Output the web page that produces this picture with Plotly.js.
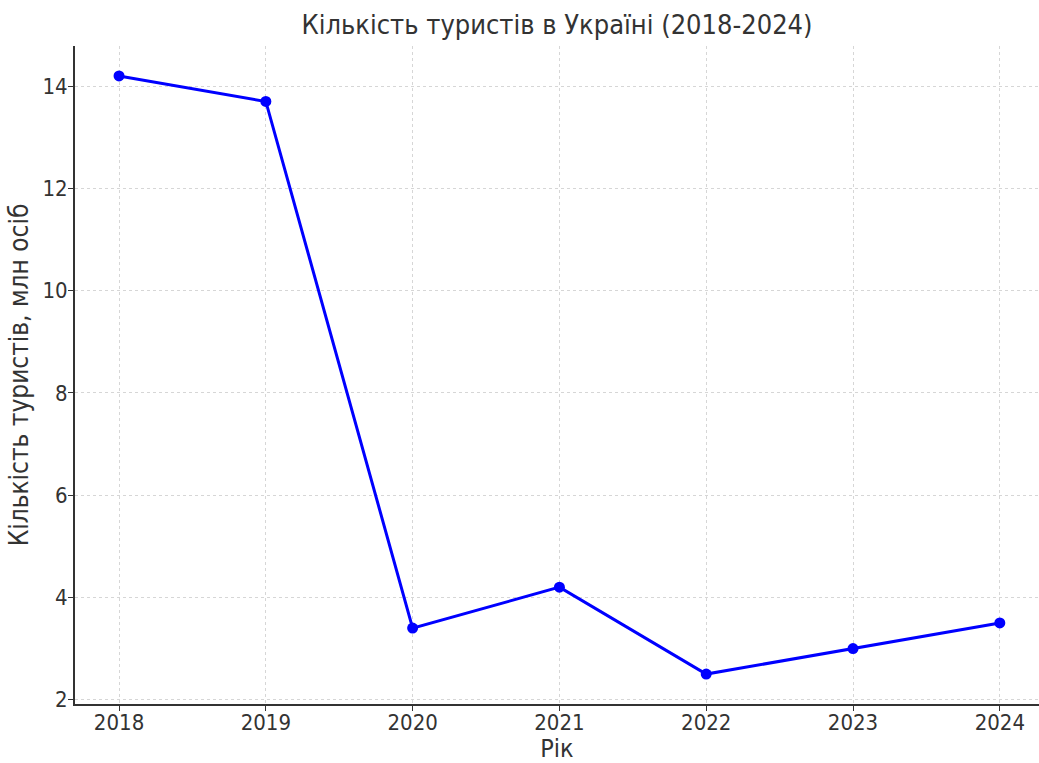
<!DOCTYPE html>
<html>
<head>
<meta charset="utf-8">
<script src="https://cdn.plot.ly/plotly-3.0.1.min.js"></script>
<style>html,body{margin:0;padding:0;background:#fff;overflow:hidden}</style>
</head>
<body>
<div id="chart" style="width:1039px;height:763px"></div>
<script>
const years = [2018, 2019, 2020, 2021, 2022, 2023, 2024];
const tourists = [14.2, 13.7, 3.4, 4.2, 2.5, 3.0, 3.5];
const yTicks = [2, 4, 6, 8, 10, 12, 14];

const trace = {
  x: years, y: tourists, type: 'scatter', mode: 'lines+markers',
  line: {color: '#0000ff', width: 3},
  marker: {color: '#0000ff', size: 11},
  hoverinfo: 'x+y'
};
const font = '"DejaVu Sans Condensed", "DejaVu Sans", sans-serif';
const layout = {
  width: 1039, height: 763,
  margin: {l: 75, r: 0, t: 46, b: 59},
  paper_bgcolor: '#fff', plot_bgcolor: '#fff',
  showlegend: false,
  title: {text: 'Кількість туристів в Україні (2018-2024)', xref: 'paper', x: 0.5, xanchor: 'center',
          yref: 'container', y: 0.968, yanchor: 'middle',
          font: {family: font, size: 27, color: '#333'}},
  xaxis: {
    range: [2017.7, 2024.267], tickvals: years, ticktext: years.map(String),
    showgrid: true, gridcolor: '#d6d6d6', griddash: 'dot', gridwidth: 1,
    zeroline: false, showline: true, linecolor: '#333', linewidth: 2,
    ticks: 'outside', ticklen: 5, tickcolor: '#333',
    tickfont: {family: font, size: 22, color: '#333'},
    ticklabelstandoff: -7,
    title: {text: 'Рік', font: {family: font, size: 25, color: '#333'}, standoff: 2}
  },
  yaxis: {
    range: [1.915, 14.785], tickvals: yTicks, ticktext: yTicks.map(String),
    showgrid: true, gridcolor: '#d6d6d6', griddash: 'dot', gridwidth: 1,
    zeroline: false, showline: true, linecolor: '#333', linewidth: 2,
    ticks: 'outside', ticklen: 5, tickcolor: '#333',
    tickfont: {family: font, size: 22, color: '#333'},
    ticklabelstandoff: -4,
    title: {text: 'Кількість туристів, млн осіб', font: {family: font, size: 26, color: '#333'}, standoff: 6}
  }
};
Plotly.newPlot('chart', [trace], layout, {displayModeBar: false, staticPlot: true});
</script>
</body>
</html>
